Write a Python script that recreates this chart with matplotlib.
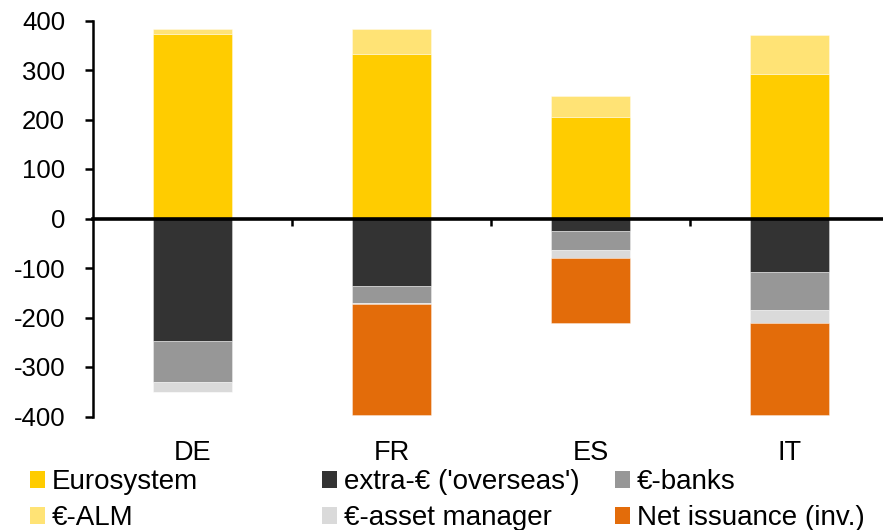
import matplotlib
matplotlib.use("Agg")
import matplotlib.pyplot as plt
import numpy as np
from matplotlib.patches import Patch

plt.rcParams['font.family'] = ['Liberation Sans', 'DejaVu Sans']

countries = ["DE", "FR", "ES", "IT"]

# holdings change by investor group (positive = above zero, negative = below)
eurosystem = [373, 332, 205, 291]
eur_alm = [9, 51, 42, 80]
extra_eur = [-247, -136, -25, -109]
eur_banks = [-83, -34, -39, -76]
eur_asset_mgr = [-20, -3, -16, -26]
net_issuance_inv = [0, -224, -131, -185]

yticks = [-400, -300, -200, -100, 0, 100, 200, 300, 400]

colors = {
    "Eurosystem": "#FFCC00",
    "€-ALM": "#FFE375",
    "extra-€ ('overseas')": "#333333",
    "€-banks": "#979797",
    "€-asset manager": "#DADADA",
    "Net issuance (inv.)": "#E36C0A",
}

W, H = 883, 530
fig = plt.figure(figsize=(W / 100, H / 100), dpi=100)
ax = fig.add_axes([93 / W, (H - 416.5) / H, 796 / W, 396 / H])

x = np.arange(len(countries))
bw = 0.4
edge = dict(edgecolor=(1, 1, 1, 0.5), linewidth=0.5)

# positive stack
pos_series = [("Eurosystem", eurosystem), ("€-ALM", eur_alm)]
bottom = np.zeros(len(x))
for name, vals in pos_series:
    v = np.array(vals, dtype=float)
    ax.bar(x, v, bw, bottom=bottom, color=colors[name], **edge)
    bottom += v

# negative stack
neg_series = [("extra-€ ('overseas')", extra_eur), ("€-banks", eur_banks),
              ("€-asset manager", eur_asset_mgr), ("Net issuance (inv.)", net_issuance_inv)]
bottom = np.zeros(len(x))
for name, vals in neg_series:
    v = np.array(vals, dtype=float)
    ax.bar(x, v, bw, bottom=bottom, color=colors[name], **edge)
    bottom += v

ax.set_xlim(-0.5, 3.5)
ax.set_ylim(-400, 400)
ax.set_yticks(yticks)
ax.set_yticklabels([str(t) for t in yticks], fontsize=18.5)
ax.tick_params(axis='y', direction='out', length=6, width=1.8, pad=14)

for s in ("top", "right"):
    ax.spines[s].set_visible(False)
ax.spines["left"].set_linewidth(1.8)
ax.spines["bottom"].set_position(("data", 0))
ax.spines["bottom"].set_linewidth(2.6)
ax.spines["bottom"].set_zorder(5)

# tick marks between categories on the zero line
ax.set_xticks(x)
ax.set_xticklabels([])
ax.tick_params(axis='x', which='major', length=0)
ax.set_xticks([0.5, 1.5, 2.5], minor=True)
ax.tick_params(axis='x', which='minor', direction='out', length=5, width=1.8)

# category labels below the plot area
for xi, lab in zip(x, countries):
    ax.annotate(lab, xy=(xi, 0), xycoords=('data', 'axes fraction'),
                xytext=(0, -26.5), textcoords='offset points',
                ha='center', va='center', fontsize=19.5)

# legend in three columns
cols = [
    (30, ["Eurosystem", "€-ALM"]),
    (322, ["extra-€ ('overseas')", "€-asset manager"]),
    (615, ["€-banks", "Net issuance (inv.)"]),
]
for xpix, names in cols:
    handles = [Patch(facecolor=colors[n], edgecolor='none') for n in names]
    fig.legend(handles, names, loc='upper left',
               bbox_to_anchor=(xpix / W, 1 - 469 / H),
               frameon=False, fontsize=20, borderpad=0, borderaxespad=0,
               handlelength=0.55, handleheight=0.55, handletextpad=0.25,
               labelspacing=0.36)

fig.savefig("out.png", dpi=100)
